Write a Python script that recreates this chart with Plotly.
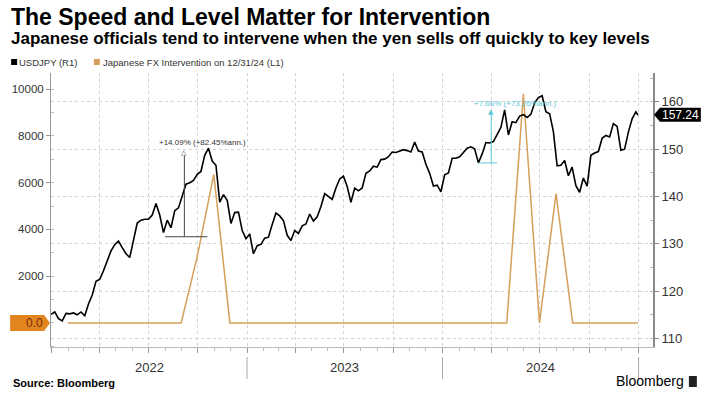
import plotly.graph_objects as go
import pandas as pd

# ---------------- data ----------------
usdjpy_start = [115.1]  # 2021-12-31
usdjpy_2022 = [115.6, 114.2, 113.7, 115.3, 115.2, 115.4, 115.0, 115.6, 114.8, 117.3, 119.2, 122.1,
               122.5, 124.3, 126.4, 128.5, 129.8, 130.6, 129.2, 127.9, 127.1, 130.9, 134.4, 135.0,
               135.2, 135.2, 136.1, 138.5, 136.1, 132.4, 135.0, 133.4, 137.0, 137.6, 140.2, 142.6,
               142.9, 143.4, 144.7, 145.3, 148.7, 150.2, 147.5, 146.6, 138.8, 140.4, 139.2, 134.3,
               136.6, 136.7, 132.8, 131.1]
usdjpy_2023 = [132.1, 127.9, 129.6, 129.9, 131.2, 131.4, 134.1, 136.5, 135.9, 134.9, 131.8, 130.7,
               132.8, 132.2, 133.8, 134.2, 136.3, 134.8, 135.7, 137.9, 140.6, 140.0, 139.4, 141.8,
               143.7, 144.3, 142.1, 138.8, 141.8, 141.2, 141.8, 144.9, 145.4, 146.4, 146.2, 147.8,
               147.9, 148.4, 149.4, 149.3, 149.6, 149.9, 149.7, 149.4, 151.5, 149.6, 149.4, 146.8,
               144.9, 142.2, 142.4, 141.0]
usdjpy_2024 = [144.6, 145.0, 148.1, 148.1, 148.4, 149.3, 150.2, 150.5, 150.1, 147.1, 149.0, 151.4,
               151.3, 151.6, 153.2, 154.6, 158.3, 153.0, 155.8, 155.6, 157.0, 157.3, 156.7, 157.4,
               159.8, 160.9, 161.3, 157.9, 157.5, 153.7, 146.5, 146.6, 147.6, 144.4, 146.2, 142.3,
               140.9, 143.9, 142.2, 148.7, 149.2, 149.5, 152.3, 152.9, 152.6, 155.4, 154.8, 149.8,
               150.0, 153.6, 156.4, 157.9]
usdjpy_last = [157.24]  # 2024-12-31

interv_2022 = [0, 0, 0, 0, 0, 0, 0, 0, 2838.2, 6349.9, 0, 0]
interv_2023 = [0, 0, 0, 0, 0, 0, 0, 0, 0, 0, 0, 0]
interv_2024 = [0, 0, 0, 0, 9788.5, 0, 5534.8, 0, 0, 0, 0, 0]

year_labels = ["2022", "2023", "2024"]
left_ticks = [2000, 4000, 6000, 8000, 10000]
right_ticks = [110, 120, 130, 140, 150, 160]

usd_values = usdjpy_start + usdjpy_2022 + usdjpy_2023 + usdjpy_2024 + usdjpy_last
usd_dates = list(pd.date_range("2021-12-31", "2024-12-27", freq="W-FRI").strftime("%Y-%m-%d")) + ["2024-12-31"]
interv_values = interv_2022 + interv_2023 + interv_2024
interv_dates = list(pd.date_range("2022-01-31", periods=36, freq=pd.offsets.MonthEnd()).strftime("%Y-%m-%d"))

# ---------------- geometry helpers ----------------
W, H = 709, 394
L, R, T, B = 49, 653, 73, 347
PW, PH = R - L, B - T
def px(x): return (x - L) / PW
def py(y): return (B - y) / PH

FONT = "Liberation Sans"
TXT = "#333333"
TAN = "#D4A05A"
CYAN = "#5CC8D6"
GRID = "#d2d2d2"

fig = go.Figure()
fig.add_trace(go.Scatter(x=interv_dates, y=interv_values, yaxis="y", mode="lines",
                         line=dict(color=TAN, width=1.5), hoverinfo="skip",
                         name="Japanese FX Intervention on 12/31/24 (L1)"))
fig.add_trace(go.Scatter(x=usd_dates, y=usd_values, yaxis="y2", mode="lines",
                         line=dict(color="#000000", width=1.6), hoverinfo="skip",
                         name="USDJPY (R1)"))

shapes = []
annotations = []

# year labels and separators
for i, yl in enumerate(year_labels):
    annotations.append(dict(x=f"{yl}-07-02", y=py(367), xref="x", yref="paper", text=yl,
                            showarrow=False, font=dict(family=FONT, size=13, color=TXT),
                            xanchor="center", yanchor="middle"))
for d in ["2023-01-01", "2024-01-01", "2025-01-01"]:
    shapes.append(dict(type="line", xref="x", yref="paper", x0=d, x1=d, y0=py(357), y1=py(379),
                       line=dict(color="#aaaaaa", width=1)))

# title, subtitle
annotations.append(dict(x=px(7), y=py(17), xref="paper", yref="paper", xanchor="left", yanchor="middle",
                        text="<b>The Speed and Level Matter for Intervention</b>", showarrow=False,
                        font=dict(family=FONT, size=23, color="#000")))
annotations.append(dict(x=px(7), y=py(38), xref="paper", yref="paper", xanchor="left", yanchor="middle",
                        text="<b>Japanese officials tend to intervene when the yen sells off quickly to key levels</b>",
                        showarrow=False, font=dict(family=FONT, size=17, color="#000")))
# legend
shapes.append(dict(type="rect", xref="paper", yref="paper", x0=px(9), x1=px(15), y0=py(65), y1=py(59),
                   fillcolor="#000", line=dict(width=0)))
annotations.append(dict(x=px(15), y=py(62), xref="paper", yref="paper", xanchor="left", yanchor="middle",
                        text="USDJPY (R1)", showarrow=False, font=dict(family=FONT, size=9.5, color=TXT)))
shapes.append(dict(type="rect", xref="paper", yref="paper", x0=px(92), x1=px(98), y0=py(65), y1=py(59),
                   fillcolor=TAN, line=dict(width=0)))
annotations.append(dict(x=px(99), y=py(62), xref="paper", yref="paper", xanchor="left", yanchor="middle",
                        text="Japanese FX Intervention on 12/31/24 (L1)", showarrow=False,
                        font=dict(family=FONT, size=9.5, color=TXT)))
# source + logo
annotations.append(dict(x=px(9), y=py(383), xref="paper", yref="paper", xanchor="left", yanchor="middle",
                        text="<b>Source: Bloomberg</b>", showarrow=False, font=dict(family=FONT, size=11, color="#000")))
annotations.append(dict(x=px(686), y=py(381), xref="paper", yref="paper", xanchor="right", yanchor="middle",
                        text="Bloomberg", showarrow=False, font=dict(family=FONT, size=14, color="#000")))
shapes.append(dict(type="rect", xref="paper", yref="paper", x0=px(689), x1=px(697), y0=py(387), y1=py(376),
                   fillcolor="#222", line=dict(width=0)))

# last value label 157.24
lv = usd_values[-1]
yl_px = 101.7 + (160 - lv) * 4.73
shapes.append(dict(type="path", xref="paper", yref="paper",
                   path=f"M {px(654)},{py(yl_px)} L {px(660)},{py(yl_px-7)} L {px(701)},{py(yl_px-7)} "
                        f"L {px(701)},{py(yl_px+7)} L {px(660)},{py(yl_px+7)} Z",
                   fillcolor="#000", line=dict(width=0)))
annotations.append(dict(x=px(680.5), y=lv, xref="paper", yref="y2", text=f"{lv:.2f}", showarrow=False,
                        xanchor="center", yanchor="middle", font=dict(family=FONT, size=12, color="#fff")))

# 0.0 label on left axis
y0px = 323
shapes.append(dict(type="path", xref="paper", yref="paper",
                   path=f"M {px(8)},{py(y0px-8)} L {px(42)},{py(y0px-8)} L {px(48)},{py(y0px)} "
                        f"L {px(42)},{py(y0px+8)} L {px(8)},{py(y0px+8)} Z",
                   fillcolor="#E2851F", line=dict(width=0)))
annotations.append(dict(x=px(43), y=0, xref="paper", yref="y", text="0.0", showarrow=False,
                        xanchor="right", yanchor="middle", font=dict(family=FONT, size=12, color="#7A2E08")))

# measurement annotation 2022
G = "#444444"
shapes.append(dict(type="line", xref="x", yref="y2", x0="2022-09-06", x1="2022-09-06", y0=131.5, y1=148.7,
                   line=dict(color=G, width=1)))
shapes.append(dict(type="line", xref="x", yref="y2", x0="2022-08-01", x1="2022-10-19", y0=131.5, y1=131.5,
                   line=dict(color=G, width=1)))
annotations.append(dict(x="2022-09-06", y=149.2, xref="x", yref="y2", text="△", showarrow=False,
                        font=dict(family="DejaVu Sans", size=7, color=G), yanchor="middle"))
annotations.append(dict(x="2022-10-09", y=151.4, xref="x", yref="y2", text="+14.09% (+82.45%ann.)",
                        showarrow=False, font=dict(family=FONT, size=8, color=TXT), yanchor="middle"))
# measurement annotation 2024
shapes.append(dict(type="line", xref="x", yref="y2", x0="2024-04-01", x1="2024-04-01", y0=147.1, y1=157.3,
                   line=dict(color=CYAN, width=1)))
shapes.append(dict(type="line", xref="x", yref="y2", x0="2024-03-08", x1="2024-04-12", y0=147.1, y1=147.1,
                   line=dict(color=CYAN, width=1)))
annotations.append(dict(x="2024-04-01", y=157.8, xref="x", yref="y2", text="▲", showarrow=False,
                        font=dict(family="DejaVu Sans", size=7, color=CYAN), yanchor="middle"))
annotations.append(dict(x="2024-05-16", y=159.6, xref="x", yref="y2", text="+7.66% (+73.26%ann.)",
                        showarrow=False, font=dict(family=FONT, size=8, color=CYAN), yanchor="middle"))

fig.update_layout(
    width=W, height=H,
    margin=dict(l=L, r=W - R, t=T, b=H - B),
    paper_bgcolor="white", plot_bgcolor="white",
    showlegend=False,
    font=dict(family=FONT, size=12, color=TXT),
    xaxis=dict(range=["2021-12-31", "2025-01-28"], type="date", showticklabels=False,
               showgrid=True, gridcolor=GRID, griddash="dot", gridwidth=1,
               tick0="2022-01-01", dtick="M3", ticks="outside", ticklen=5, tickcolor="#999",
               showline=True, linecolor="#bbbbbb", zeroline=False,
               minor=dict(dtick="M1", ticks="outside", ticklen=3, tickcolor="#bbbbbb", showgrid=False)),
    yaxis=dict(range=[-1026, 10684], tickvals=left_ticks, tickformat="d", ticks="outside", ticklen=4,
               tickcolor="#999", showgrid=False, showline=True, linecolor="#999999", linewidth=1,
               zeroline=False, tickfont=dict(family=FONT, size=11.5, color=TXT),
               minor=dict(tick0=0, dtick=1000, ticks="inside", ticklen=3, tickcolor="#bbbbbb")),
    yaxis2=dict(range=[108.2, 166.1], overlaying="y", side="right", tickvals=right_ticks,
                ticks="outside", ticklen=4, tickcolor="#888", showgrid=True, gridcolor=GRID,
                griddash="dot", showline=True, linecolor="#8a8a8a", linewidth=2, zeroline=False,
                tickfont=dict(family=FONT, size=13, color=TXT),
                minor=dict(tick0=105, dtick=5, ticks="inside", ticklen=3, tickcolor="#bbbbbb")),
    shapes=shapes, annotations=annotations,
)

fig.write_html("out.html", config={"displayModeBar": False},
               post_script="document.body.style.margin='0px';document.body.style.padding='0px';")
